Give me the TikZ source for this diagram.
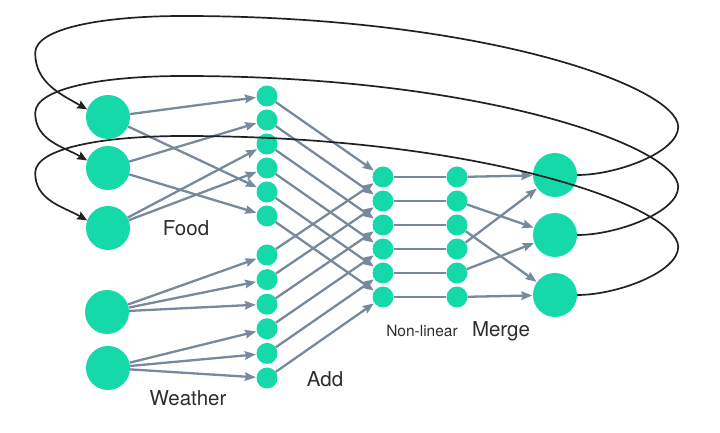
\documentclass[tikz,border=0pt]{standalone}
\usepackage{fontspec}
\setmainfont{TeX Gyre Heros}
\usepackage{tikz}
\usetikzlibrary{arrows.meta}

\definecolor{unitgreen}{RGB}{22,217,170}
\definecolor{wiregray}{RGB}{120,137,155}
\definecolor{loopblack}{RGB}{32,34,36}
\definecolor{labelgray}{RGB}{45,45,45}

\tikzset{
    bigunit/.style={circle, fill=unitgreen, minimum size=44pt, inner sep=0pt},
    smallunit/.style={circle, fill=unitgreen, minimum size=21pt, inner sep=0pt},
    wire/.style={draw=wiregray, line width=2.3pt},
    feed/.style={wire, -{Stealth[length=11pt,width=8.5pt,inset=1.5pt]}, shorten >=0.5pt},
    recur/.style={draw=loopblack, line width=1.7pt, -{Stealth[length=10pt,width=8.5pt,inset=1.5pt]}},
    lbl/.style={text=labelgray, anchor=base, inner sep=0pt, font=\fontsize{20.5}{24}\selectfont},
}

\begin{document}
\begin{tikzpicture}[x=1pt,y=1pt]
    \useasboundingbox (0,0) rectangle (720,433);

    %% inputs
    \node[bigunit] (food1) at (108,316) {};
    \node[bigunit] (food2) at (108,265) {};
    \node[bigunit] (food3) at (108,205) {};
    \node[bigunit] (weather1) at (107,121) {};
    \node[bigunit] (weather2) at (108,65) {};

    %% add, non-linear, merge
    \foreach \i in {1,...,6} {
        \node[smallunit] (add\i) at (267,361-24*\i) {};
        \node[smallunit] (non\i) at (383,280-24*\i) {};
        \node[smallunit] (mix\i) at (457,280-24*\i) {};
    }
    \foreach \i in {7,...,12}
        \node[smallunit] (add\i) at (267,350.2-24.6*\i) {};
    \foreach \i in {1,2,3}
        \node[bigunit] (out\i) at (555,318-60*\i) {};

    %% labels
    \node[lbl] (foodtext) at (186,197) {Food};
    \node[lbl] (weathertext) at (188,27) {Weather};
    \node[lbl] (addtext) at (325,46) {Add};
    \node[lbl, font=\fontsize{15.5}{18}\selectfont] (nontext) at (422,96) {Non-linear};
    \node[lbl] (mergetext) at (501,96) {Merge};

    %% input -> add
    \draw[feed] (food1) -- (add1);
    \draw[feed] (food1) -- (add5);
    \draw[feed] (food2) -- (add2);
    \draw[feed] (food2) -- (add6);
    \draw[feed] (food3) -- (add3);
    \draw[feed] (food3) -- (add4);
    \foreach \i in {7,8,9} \draw[feed] (weather1) -- (add\i);
    \foreach \i in {10,11,12} \draw[feed] (weather2) -- (add\i);

    %% add -> non-linear -> merge
    \foreach \i [evaluate=\i as \j using {int(\i+6)}, evaluate=\i as \k using {int(mod(\i-1,3)+1)}] in {1,...,6} {
        \draw[feed] (add\i) -- (non\i);
        \draw[feed] (add\j) -- (non\i);
        \draw[wire] (non\i) -- (mix\i);
        \draw[feed] (mix\i) -- (out\k);
    }

    %% feedback loops
    \foreach \i in {1,2,3}
        \draw[recur] (out\i.east) .. controls +(40,0) and +(0,-25) .. ++(101,48)
            .. controls +(0,40) and +(300,0) .. ++(-495,111)
            .. controls +(-80,0) and +(0,25) .. ++(-148,-37)
            to[out=-90,in=150] (food\i.160);
\end{tikzpicture}
\end{document}
